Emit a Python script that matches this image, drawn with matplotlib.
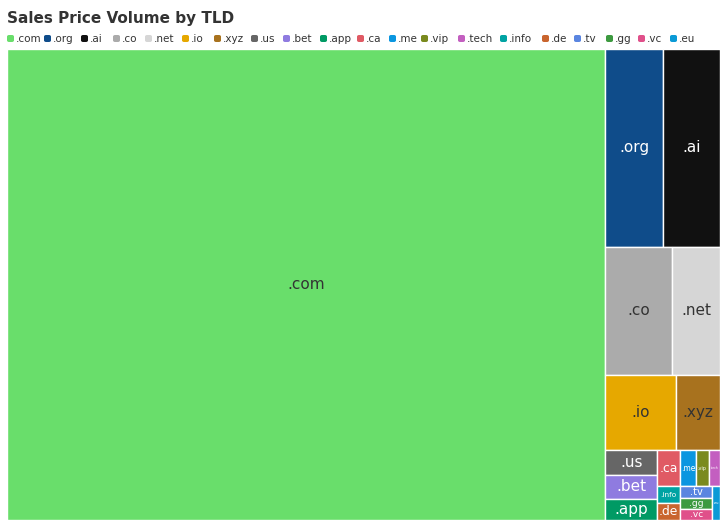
import matplotlib
matplotlib.use("Agg")
import matplotlib.pyplot as plt
from matplotlib.patches import Rectangle, FancyBboxPatch

# tiles in layout order
tlds = ['.com','.org','.ai','.co','.net','.io','.xyz','.us','.bet','.app','.ca','.info','.de','.me','.vip','.tech','.tv','.gg','.vc','.eu']
values = [281658,11426,11229,8509,6096,5325,3300,1275,1270,1071,851,395,390,555,481,407,372,345,341,272]
# strips of the layout: number of tiles, and 'col' (left column) or 'row' (top strip)
strip_sizes = [1, 2, 2, 2, 3, 3, 3, 3, 1]
strip_dirs = ['col', 'row', 'row', 'row', 'col', 'col', 'row', 'col', 'col']
color_map = {'.com':'#69DE6B','.org':'#0F4C8A','.ai':'#111111','.co':'#ABABAB','.net':'#D6D6D6','.io':'#E6A800',
             '.xyz':'#A8721E','.us':'#666666','.bet':'#8F7BE0','.app':'#009A64','.ca':'#E05A64','.me':'#0A96E0',
             '.vip':'#7A8A1E','.tech':'#C35FC0','.info':'#00A3A3','.de':'#C9652E','.tv':'#5A85E0','.gg':'#3D9A40',
             '.vc':'#E0508A','.eu':'#0A9AD6'}
legend_order = ['.com','.org','.ai','.co','.net','.io','.xyz','.us','.bet','.app','.ca','.me','.vip','.tech','.info','.de','.tv','.gg','.vc','.eu']
dark = {'.org','.ai','.us','.bet','.app','.ca','.me','.vip','.tech','.info','.de','.tv','.gg','.vc','.eu'}

W, H = 713, 471

def strip_layout(vals, sizes, dirs, x0, y0, x1, y1):
    out = []
    value = sum(vals); i0 = 0
    for k, d in zip(sizes, dirs):
        row = vals[i0:i0 + k]; s = sum(row)
        dx, dy = x1 - x0, y1 - y0
        if d == 'row':
            ny = y0 + dy * s / value; cx = x0
            for v in row:
                w = dx * v / s; out.append((cx, y0, w, ny - y0)); cx += w
            y0 = ny
        else:
            nx = x0 + dx * s / value; cy = y0
            for v in row:
                h = dy * v / s; out.append((x0, cy, nx - x0, h)); cy += h
            x0 = nx
        value -= s; i0 += k
    return out

rects = strip_layout(values, strip_sizes, strip_dirs, 0, 0, W, H)

fig = plt.figure(figsize=(7.28, 5.28), dpi=100)
ax = fig.add_axes([7/728, 8/528, W/728, H/528])
ax.set_xlim(0, W); ax.set_ylim(H, 0); ax.axis('off')
for t, (x, y, w, h) in zip(tlds, rects):
    ax.add_patch(Rectangle((x, y), w, h, facecolor=color_map[t], edgecolor='white', lw=1))
    fs = min(11, h * 0.6, (w - 2) / (0.8 * len(t)))
    ax.text(x + w/2, y + h/2, t, ha='center', va='center', fontsize=max(fs, 2),
            color='white' if t in dark else '#333333')

fig.text(7/728, 1 - 18/528, 'Sales Price Volume by TLD', fontsize=11, fontweight='bold', color='#333333', va='center')
xp = 7
for t in legend_order:
    fig.patches.append(FancyBboxPatch((xp/728, 1-42/528), 7/728, 7/528, boxstyle='round,pad=0,rounding_size=0.003',
                                      transform=fig.transFigure, facecolor=color_map[t], edgecolor='none'))
    fig.text((xp+9)/728, 1-38.5/528, t, fontsize=7.5, color='#333333', va='center')
    xp += 9 + len(t)*5.0 + 8
fig.savefig('out.png', dpi=100)
